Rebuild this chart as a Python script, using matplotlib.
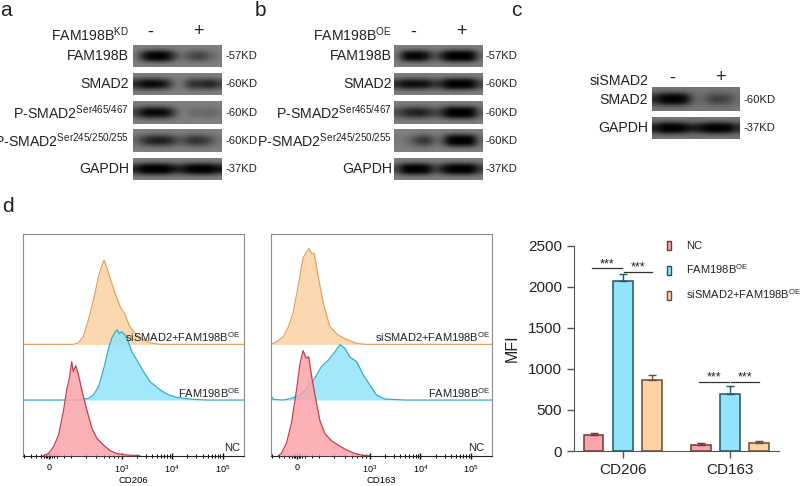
import matplotlib
matplotlib.use("Agg")
import matplotlib.pyplot as plt
from matplotlib.patches import Patch
import numpy as np

plt.rcParams["font.family"] = ["Liberation Sans", "DejaVu Sans"]
plt.rcParams["mathtext.default"] = "regular"

W, H = 800, 486

# western blots: lane darkness read across each band, left to right
blots_a = {
    "FAM198B": [.1, .9, 1.25, 1.3, 1.2, .6, .1, .35, .55, .5, .25, .05],
    "SMAD2": [.7, 1.05, 1.1, 1, .8, .2, 0, .6, .7, .7, .85, .5],
    "P465": [.5, 1, 1.1, 1.1, 1, .5, 0, .1, .2, .15, .25, .1],
    "P245": [.2, .6, .8, .85, .8, .55, .3, .6, .7, .6, .4, .1],
    "GAPDH": [.8, 1.3, 1.4, 1.4, 1.3, .9, .8, 1.2, 1.4, 1.4, 1.3, .9],
}
blots_b = {
    "FAM198B": [.1, 1.1, 1.2, 1.2, .9, .3, .8, 1.4, 1.5, 1.5, 1.3, .2],
    "SMAD2": [.7, 1, 1, 1, .9, .6, .8, 1.3, 1.3, 1.3, 1.2, .5],
    "P465": [.4, .7, .8, .85, .7, .45, .7, 1.4, 1.5, 1.5, 1.3, .3],
    "P245": [.05, .1, .3, .6, .7, .2, .3, 1.3, 1.5, 1.5, 1.3, .2],
    "GAPDH": [.5, 1.3, 1.4, 1.4, 1.2, .5, .8, 1.3, 1.4, 1.4, 1.3, .6],
}
blots_c = {
    "SMAD2": [.7, 1.2, 1.3, 1.3, 1.1, .3, .05, .3, .5, .5, .4, .1],
    "GAPDH": [.8, 1.4, 1.4, 1.3, 1.1, .8, .9, 1.2, 1.3, 1.3, 1.2, .7],
}
band_profile = [0, .2, .75, 1, .75, .2, 0]

row_labels = {
    "FAM198B": "FAM198B",
    "SMAD2": "SMAD2",
    "P465": r"P-SMAD2$^{Ser465/467}$",
    "P245": r"P-SMAD2$^{Ser245/250/255}$",
    "GAPDH": "GAPDH",
}
row_sizes = {"FAM198B": "-57KD", "SMAD2": "-60KD", "P465": "-60KD", "P245": "-60KD", "GAPDH": "-37KD"}

# flow histograms, x in decades, height in % of the panel
cd206_nc_x = [1.45, 1.55, 1.65, 1.75, 1.85, 1.91, 1.97, 2.01, 2.04, 2.09, 2.14, 2.21, 2.31, 2.41, 2.51, 2.64, 2.77, 2.90, 3.10, 3.36]
cd206_nc_y = [0, 1, 4, 9.3, 20.6, 29.6, 35.6, 42.4, 38, 40.6, 36.8, 29.6, 20.6, 12.4, 7.8, 4.8, 2.3, 1, .3, 0]
cd206_oe_x = [1.04, 2.11, 2.21, 2.34, 2.44, 2.54, 2.60, 2.67, 2.74, 2.80, 2.87, 2.91, 2.95, 3, 3.07, 3.13, 3.2, 3.3, 3.43, 3.56, 3.72, 3.89, 4.09, 4.35, 4.68, 5.42]
cd206_oe_y = [0, 0, .3, .75, 2.3, 6, 10.5, 16.5, 23.3, 27.8, 30.8, 31.6, 30, 30.8, 29.3, 26.3, 21.8, 18, 12.8, 8.3, 5.3, 2.7, 1.2, .45, 0, 0]
cd206_si_x = [1.04, 2.04, 2.14, 2.24, 2.34, 2.44, 2.54, 2.60, 2.65, 2.70, 2.77, 2.87, 2.97, 3.07, 3.16, 3.3, 3.43, 3.56, 3.76, 5.42]
cd206_si_y = [0, 0, .75, 3.5, 11, 20, 30.5, 35, 38, 35, 29.8, 23, 17, 13.2, 8, 4.2, 2.3, .75, 0, 0]

cd163_nc_x = [1.19, 1.25, 1.35, 1.45, 1.55, 1.62, 1.68, 1.74, 1.79, 1.85, 1.91, 2.01, 2.11, 2.24, 2.37, 2.54, 2.70, 2.87, 3]
cd163_nc_y = [0, 1, 5.6, 14.6, 29.6, 41.6, 47.4, 44, 44.7, 35.6, 28, 16, 10, 6.8, 4.8, 2.6, 1, .15, 0]
cd163_oe_x = [1.04, 1.09, 1.29, 1.45, 1.62, 1.75, 1.91, 2.04, 2.18, 2.31, 2.41, 2.51, 2.60, 2.74, 2.87, 3, 3.13, 3.3, 3.72, 5.42]
cd163_oe_y = [2.3, .3, 0, .75, 2.3, 5.3, 9.8, 15, 18, 21.8, 25, 23.3, 19.5, 17.3, 11.3, 6.8, 2.3, .45, 0, 0]
cd163_si_x = [1.04, 1.16, 1.29, 1.39, 1.48, 1.58, 1.68, 1.75, 1.8, 1.85, 1.9, 1.98, 2.08, 2.21, 2.37, 2.54, 2.74, 2.93, 5.42]
cd163_si_y = [0, 1.2, 3.5, 8, 14, 26, 39, 41.8, 43.3, 41, 41, 30.5, 18.5, 8, 4.2, 2.3, .45, 0, 0]

stack_offset = 25.1
flow_minor = [1.07, 1.2, 1.3, 1.4, 1.47, 1.5, 1.53, 1.59, 1.62, 1.65, 1.72, 1.85, 2.0, 2.3, 2.5, 2.65, 2.75, 2.85, 2.92]

# bar chart
groups = ["CD206", "CD163"]
series = ["NC", r"FAM198B$^{OE}$", r"siSMAD2+FAM198B$^{OE}$"]
nc_vals = [190, 75]
oe_vals = [2075, 700]
si_vals = [860, 95]
nc_err = [30, 20]
oe_err = [75, 90]
si_err = [60, 30]
sig_levels = [[2224, 2183], [840, 840]]

fills = ["#fba4aa", "#92e3fb", "#fcd2a4"]
edges = ["#c4404f", "#35adc8", "#e0a565"]
bar_edges = ["#6d3a3d", "#1e5664", "#6b4c33"]


def px_axes(left, top, right, bottom):
    return fig.add_axes([left / W, 1 - bottom / H, (right - left) / W, (bottom - top) / H])


def flow_panel(ax, curves, name):
    for i, (x, y) in reversed(list(enumerate(curves))):
        base = i * stack_offset
        z = 3 - i
        ax.fill_between(x, base, base + np.array(y), color=fills[i], alpha=.85, lw=0, zorder=z)
        ax.plot(x, base + np.array(y), color=edges[i], lw=.9, zorder=z)
    ax.set_xlim(1.04, 5.42)
    ax.set_ylim(0, 100)
    ax.set_yticks([])
    for s in ["top", "left", "right"]:
        ax.spines[s].set_color("#8c8c8c")
    ax.spines["bottom"].set_color("#222222")
    ax.set_xticks([1.56, 3, 4, 5])
    ax.set_xticklabels(["0", "$10^{3}$", "$10^{4}$", "$10^{5}$"], fontsize=6.5)
    minor = flow_minor + [d + np.log10(m) for d in (3, 4) for m in range(2, 10)]
    ax.set_xticks(minor, minor=True)
    ax.tick_params(axis="x", which="major", direction="inout", length=5, width=1, pad=3)
    ax.tick_params(axis="x", which="minor", direction="inout", length=3, width=.7)
    ax.set_xlabel(name, fontsize=6.8, labelpad=1)


fig = plt.figure(figsize=(W / 100, H / 100), dpi=100)

ax1 = px_axes(22.7, 234, 244, 455.7)
flow_panel(ax1, [(cd206_nc_x, cd206_nc_y), (cd206_oe_x, cd206_oe_y), (cd206_si_x, cd206_si_y)], "CD206")
ax2 = px_axes(270.7, 234, 492.3, 455.7)
flow_panel(ax2, [(cd163_nc_x, cd163_nc_y), (cd163_oe_x, cd163_oe_y), (cd163_si_x, cd163_si_y)], "CD163")

for ax, right_si, right_nc in [(ax1, 240, 240), (ax2, 490, 484)]:
    for txt, r, y in [(series[2], right_si, 336.7), (series[1], right_si, 392.7), ("NC", right_nc, 448)]:
        fig.text(r / W, 1 - y / H, txt, ha="right", va="center", fontsize=8, color="#222222", zorder=10)

# bars
ax3 = px_axes(574, 245.7, 779.3, 451)
centers = np.array([0, 3.67])
for i, (vals, errs) in enumerate(zip([nc_vals, oe_vals, si_vals], [nc_err, oe_err, si_err])):
    ax3.bar(centers + i - 1, vals, width=.675, color=fills[i], edgecolor=bar_edges[i], linewidth=1.1,
            yerr=[[0, 0], errs], ecolor=bar_edges[i], error_kw=dict(capsize=3, elinewidth=1, capthick=1))
ax3.set_xlim(-1.67, 5.36)
ax3.set_ylim(0, 2500)
ax3.set_yticks([0, 500, 1000, 1500, 2000, 2500])
ax3.set_xticks(centers)
ax3.set_xticklabels(groups)
ax3.tick_params(axis="both", labelsize=11, length=5, width=1, color="#555555", labelcolor="#222222")
ax3.spines[["top", "right"]].set_visible(False)
ax3.spines[["left", "bottom"]].set_color("#555555")
ax3.set_ylabel("MFI", fontsize=11.5, color="#222222", labelpad=6)
for c, levels in zip(centers, sig_levels):
    for (x0, x1), lv in zip([(-1.05, -.02), (.03, 1.0)], levels):
        ax3.plot([c + x0, c + x1], [lv, lv], color="#333333", lw=.9, clip_on=False)
        ax3.text(c + (x0 + x1) / 2, lv - 20, "***", ha="center", va="bottom", fontsize=9, color="#222222")

handles = [Patch(facecolor=f, edgecolor=e, linewidth=1) for f, e in zip(fills, bar_edges)]
fig.legend(handles, series, loc="upper left", bbox_to_anchor=(667 / W, 1 - 241 / H), frameon=False,
           fontsize=8, handlelength=.4, handleheight=.9, handletextpad=1.35, labelspacing=1.0,
           borderpad=0, borderaxespad=0, labelcolor="#222222")

# page level axes in pixels for blots and labels
page = fig.add_axes([0, 0, 1, 1])
page.patch.set_visible(False)
page.axis("off")


def blot(profile, bg, left, top, right, bottom):
    img = bg * (1 - np.outer(band_profile, profile))
    page.imshow(np.clip(img, 0, 1), cmap="gray", vmin=0, vmax=1, interpolation="bicubic",
                extent=(left, right, bottom, top), aspect="auto")


def blot_panel(blots, left, right, rows, bg, label_right, size_x, lane_x, head, head_y, y_shift=0):
    for (name, profile), (top, bottom) in zip(blots.items(), rows):
        blot(profile, bg, left, top, right, bottom)
        mid = (top + bottom) / 2
        page.text(label_right, mid + y_shift, row_labels[name], ha="right", va="center", fontsize=10.2, color="#222222")
        page.text(size_x, mid, row_sizes[name], ha="left", va="center", fontsize=8.1, color="#222222")
    page.text(label_right, head_y + 2, head, ha="right", va="center", fontsize=10.2, color="#222222")
    page.text(lane_x[0], head_y - 1, "-", ha="center", va="center", fontsize=13, color="#222222")
    page.text(lane_x[1], head_y - 1, "+", ha="center", va="center", fontsize=13, color="#222222")


rows5 = [(45, 67), (73, 95), (101, 124), (129, 152), (158, 180)]
blot_panel(blots_a, 133, 222, rows5, .5, 129, 225, (150, 198), r"FAM198B$^{KD}$", 33)
blot_panel(blots_b, 394, 483, rows5, .5, 392, 486, (413, 461), r"FAM198B$^{OE}$", 33)
blot_panel(blots_c, 652, 740, [(88, 111), (117, 139)], .46, 648, 743, (672, 720), "siSMAD2", 79)

for letter, x, y in [("a", 0, 11), ("b", 255, 11), ("c", 511, 11), ("d", 2, 206)]:
    page.text(x, y, letter, ha="left", va="center", fontsize=15, color="#222222")

page.set_xlim(0, W)
page.set_ylim(H, 0)

fig.savefig("out.png", dpi=100)
